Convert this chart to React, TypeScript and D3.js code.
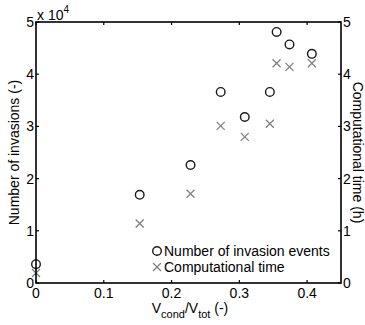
import React from "react";
import * as d3 from "d3";

const xVals = [0, 0.153, 0.228, 0.2725, 0.308, 0.345, 0.355, 0.374, 0.407];
const invasions = [3600, 16900, 22600, 36600, 31800, 36600, 48100, 45700, 43900];
const compTime = [0.19, 1.14, 1.71, 3.01, 2.8, 3.05, 4.21, 4.14, 4.21];
const xTicks = [0, 0.1, 0.2, 0.3, 0.4];
const yLeftTicks = [0, 1, 2, 3, 4, 5];
const yRightTicks = [0, 1, 2, 3, 4, 5];
const legendLabels = ["Number of invasion events", "Computational time"];

const W = 365, H = 325;
const L = 36, R = 341, T = 22, B = 283;
const FONT = "'Liberation Sans', Arial, sans-serif";

export default function App() {
  const x = d3.scaleLinear().domain([0, 0.45]).range([L, R]);
  const yL = d3.scaleLinear().domain([0, 50000]).range([B, T]);
  const yR = d3.scaleLinear().domain([0, 5]).range([B, T]);
  const fmtX = (v: number) => (v === 0 ? "0" : d3.format(".1f")(v));
  const tick = 3;
  const cross = (cx: number, cy: number, s: number, key: string | number) => (
    <path key={key} d={`M${cx - s},${cy - s}L${cx + s},${cy + s}M${cx - s},${cy + s}L${cx + s},${cy - s}`} stroke="#808080" strokeWidth={1.3} fill="none" />
  );
  return (
    <svg width={W} height={H} style={{ position: "absolute", left: 0, top: 0, background: "#fff" }} fontFamily={FONT}>
      {/* data */}
      {xVals.map((v, i) => cross(x(v), yR(compTime[i]), 4, "c" + i))}
      {xVals.map((v, i) => (
        <circle key={"o" + i} cx={x(v)} cy={yL(invasions[i])} r={4.3} fill="none" stroke="#1a1a1a" strokeWidth={1.4} />
      ))}
      {/* frame */}
      <rect x={L} y={T} width={R - L} height={B - T} fill="none" stroke="#000" strokeWidth={1.6} />
      {/* x ticks */}
      {xTicks.map((t) => (
        <g key={"xt" + t}>
          <line x1={x(t)} x2={x(t)} y1={B} y2={B - tick} stroke="#000" strokeWidth={1.2} />
          <line x1={x(t)} x2={x(t)} y1={T} y2={T + tick} stroke="#000" strokeWidth={1.2} />
          <text x={x(t)} y={298} fontSize={14} textAnchor="middle">{fmtX(t)}</text>
        </g>
      ))}
      {/* left y ticks */}
      {yLeftTicks.map((t) => (
        <g key={"yl" + t}>
          <line x1={L} x2={L + tick} y1={yR(t)} y2={yR(t)} stroke="#000" strokeWidth={1.2} />
          <text x={34} y={yR(t) + 5} fontSize={14} textAnchor="end">{t}</text>
        </g>
      ))}
      {/* right y ticks */}
      {yRightTicks.map((t) => (
        <g key={"yr" + t}>
          <line x1={R} x2={R - tick} y1={yR(t)} y2={yR(t)} stroke="#000" strokeWidth={1.2} />
          <text x={343} y={yR(t) + 5} fontSize={14} textAnchor="start">{t}</text>
        </g>
      ))}
      {/* exponent */}
      <text x={37} y={20} fontSize={14}>x 10<tspan fontSize={10} dy={-7}>4</tspan></text>
      {/* axis labels */}
      <text x={190} y={313} fontSize={14} textAnchor="middle">
        V<tspan fontSize={11} dy={5}>cond</tspan><tspan dy={-5}>/V</tspan><tspan fontSize={11} dy={5}>tot</tspan><tspan dy={-5}> (-)</tspan>
      </text>
      <text transform={`translate(19,${(T + B) / 2}) rotate(-90)`} fontSize={14} textAnchor="middle">Number of invasions (-)</text>
      <text transform={`translate(353,${(T + B) / 2}) rotate(90)`} fontSize={14} textAnchor="middle">Computational time (h)</text>
      {/* legend */}
      <circle cx={157} cy={251} r={4.3} fill="none" stroke="#1a1a1a" strokeWidth={1.4} />
      <text x={164} y={256} fontSize={14}>{legendLabels[0]}</text>
      {cross(157, 267, 4, "leg")}
      <text x={164} y={272} fontSize={14}>{legendLabels[1]}</text>
    </svg>
  );
}
